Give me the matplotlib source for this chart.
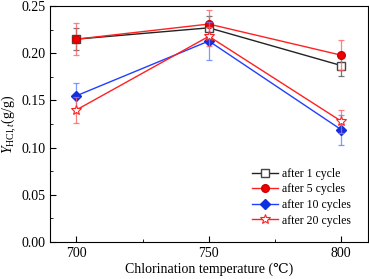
import matplotlib
matplotlib.use("Agg")
import matplotlib.pyplot as plt
from matplotlib.ticker import MultipleLocator

temps = [700, 750, 800]
labels = ["after 1 cycle", "after 5 cycles", "after 10 cycles", "after 20 cycles"]
y1 = [0.215, 0.227, 0.187]
e1 = [0.012, 0.013, 0.011]
y5 = [0.215, 0.231, 0.198]
e5 = [0.017, 0.015, 0.016]
y10 = [0.155, 0.213, 0.119]
e10 = [0.013, 0.020, 0.016]
y20 = [0.140, 0.218, 0.128]
e20 = [0.014, 0.010, 0.012]

plt.rcParams['font.family'] = ['Liberation Serif', 'DejaVu Serif']
plt.rcParams['mathtext.fontset'] = 'custom'
plt.rcParams['mathtext.rm'] = 'Liberation Serif'
plt.rcParams['mathtext.it'] = 'Liberation Serif:italic'

fig = plt.figure(figsize=(3.69, 2.79), dpi=100)
ax = fig.add_axes([0.1355, 0.133, 0.861, 0.845])

styles = [
    (y1, e1, dict(color='#222222', marker='s', mfc='white', mec='#444444', ms=5.5), '#555555'),
    (y5, e5, dict(color='#ff2020', marker='o', mfc='#ee0000', mec='#cc0000', ms=5.5), '#ff6060'),
    (y10, e10, dict(color='#2040ff', marker='D', mfc='#1030e0', mec='#1030e0', ms=5), '#6080ff'),
    (y20, e20, dict(color='#ff2020', marker='*', mfc='white', mec='#ff2020', ms=7.5, markeredgewidth=0.8), '#ff6060'),
]
for (y, e, st, ec), lab in zip(styles, labels):
    ax.errorbar(temps, y, yerr=e, fmt='none', ecolor=ec, elinewidth=0.9, capsize=2.5, capthick=0.9, alpha=0.8)
    ax.plot(temps, y, lw=1.0, label=lab, **st)

ax.set_xlim(690, 810)
ax.set_ylim(0, 0.25)
ax.set_xticks(temps)
ax.xaxis.set_minor_locator(MultipleLocator(25))
ax.yaxis.set_major_locator(MultipleLocator(0.05))
ax.yaxis.set_minor_locator(MultipleLocator(0.025))
ax.yaxis.set_major_formatter(matplotlib.ticker.FormatStrFormatter('%.2f'))
ax.tick_params(which='both', direction='in', top=False, right=False, labelsize=10)
ax.tick_params(which='major', length=4)
ax.tick_params(which='minor', length=2.5)
for s in ax.spines.values():
    s.set_linewidth(0.8)
ax.set_xlabel("Chlorination temperature (℃)", fontsize=10, labelpad=2)
ax.set_ylabel(r"$\it{Y}_{\rm HCl,\it{t}}$(g/g)", fontsize=10, labelpad=2)
ax.legend(loc='lower right', frameon=False, fontsize=8.5, handlelength=2.2, handletextpad=0.3,
          labelspacing=0.3, bbox_to_anchor=(0.98, 0.02))
fig.savefig("out.png", dpi=100)
